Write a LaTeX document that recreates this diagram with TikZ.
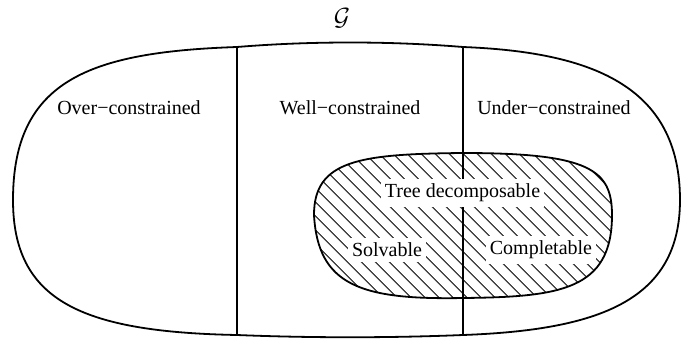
\documentclass[tikz,border=0pt]{standalone}
\usepackage{fontspec}
\setmainfont{Liberation Serif}
\usetikzlibrary{patterns.meta}
\begin{document}
\begin{tikzpicture}[x=1pt,y=-1pt,
  lbl/.style={font=\fontsize{20}{24}\selectfont, inner sep=2pt},
  wbg/.style={lbl, fill=white, inner xsep=4pt, inner ysep=5pt},
  edge/.style={line width=1.8pt},
  hatch/.style={pattern={Lines[angle=-45,distance=10.5pt,line width=1.4pt]}, pattern color=black!70}]
\useasboundingbox (0,0) rectangle (681,340);
\coordinate (t1) at (237,47);
\coordinate (b1) at (237,335);
\coordinate (t2) at (463,47);
\coordinate (b2) at (463,335);
% outer region G
\draw[edge] (13,200) .. controls (13,80) and (90,52) .. (t1)
  .. controls (310,41) and (390,41) .. (t2)
  .. controls (590,52) and (680,85) .. (680,200)
  .. controls (680,300) and (600,330) .. (b2)
  .. controls (390,338) and (310,338) .. (b1)
  .. controls (80,332) and (13,300) .. cycle;
\draw[edge] (t1) -- (b1);
% inner region
\draw[edge, hatch] (314,215) .. controls (314,160) and (360,154) .. (463,153)
  .. controls (590,153) and (612,170) .. (612,215)
  .. controls (612,290) and (560,297) .. (463,298)
  .. controls (360,300) and (318,285) .. cycle;
\draw[edge] (t2) -- (b2);
% labels
\node[lbl, inner sep=0pt, font=\fontsize{25}{28}\selectfont] (g) at (342,18) {$\mathcal{G}$};
\node[lbl] (over) at (129,108) {Over−constrained};
\node[lbl] (well) at (350,108) {Well−constrained};
\node[lbl] (under) at (554,108) {Under−constrained};
\node[wbg] (tree) at (462.5,193) {Tree decomposable};
\node[wbg] (solv) at (387,250) {Solvable};
\node[wbg] (comp) at (541,250) {Completable};
\end{tikzpicture}
\end{document}
